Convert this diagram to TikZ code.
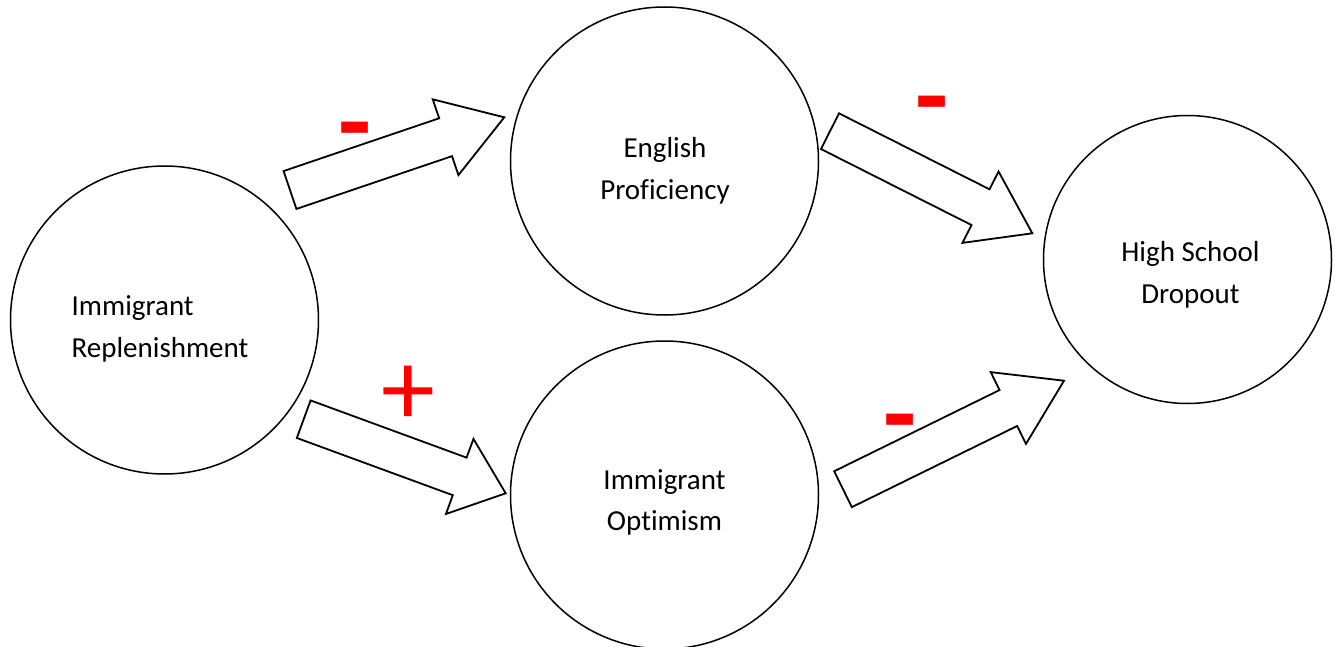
\documentclass[tikz,border=0pt]{standalone}
\usepackage{fontspec}
\setmainfont{Carlito}[Ligatures={NoCommon}]
\usetikzlibrary{calc}

\newcommand{\flowarrow}[3][29pt]{%
  \coordinate (#2#3) at ($(#3)!#1!(#2)$);
  \draw[arrowline] ($(#2)!10pt!90:(#3)$) -- ($(#2#3)!10pt!90:(#3)$) -- ($(#2#3)!20pt!90:(#3)$) -- (#3)
    -- ($(#2#3)!20pt!-90:(#3)$) -- ($(#2#3)!10pt!-90:(#3)$) -- ($(#2)!10pt!-90:(#3)$) -- cycle;}

\begin{document}
\begin{tikzpicture}[x=0.5pt, y=-0.5pt,
  bubble/.style={draw, circle, line width=0.75pt, minimum size=154pt, inner sep=0pt},
  caption/.style={align=center, font={\fontsize{14.5}{20.85}\selectfont}},
  arrowline/.style={fill=white, line width=0.9pt, line join=miter},
  sign/.style={text=red, font={\fontsize{54}{54}\selectfont}, inner sep=0pt, anchor=base}]
  \useasboundingbox (0,0) rectangle (1335,647);

  \node[bubble] (repl) at (164.5,320) {};
  \node[bubble] (eng) at (664.5,161) {};
  \node[bubble] (opt) at (664.5,495) {};
  \node[bubble, minimum size=144pt] (drop) at (1187.5,259.5) {};

  \node[caption, align=left] (repltxt) at (160,329) {Immigrant\\Replenishment};
  \node[caption] (engtxt) at (665,170.5) {English\\Proficiency};
  \node[caption] (opttxt) at (664.5,502.5) {Immigrant\\Optimism};
  \node[caption] (droptxt) at (1190.5,275) {High School\\Dropout};

  \coordinate (replup) at (290,190);
  \coordinate (engin) at (504.3,117.3);
  \coordinate (repldown) at (303.7,419.2);
  \coordinate (optin) at (505.7,493.3);
  \coordinate (engout) at (830,131.2);
  \coordinate (dropup) at (1032.3,233.3);
  \coordinate (optout) at (843,489.2);
  \coordinate (dropdown) at (1064,380.7);

  \flowarrow[31pt]{replup}{engin}
  \flowarrow[24.5pt]{repldown}{optin}
  \flowarrow[29pt]{engout}{dropup}
  \flowarrow[31pt]{optout}{dropdown}

  \node[sign] (minusa) at (355,158.5) {\bfseries -};
  \node[sign] (plusa) at (408.7,425) {+};
  \node[sign] (minusb) at (932,132.5) {\bfseries -};
  \node[sign] (minusc) at (900,450) {\bfseries -};
\end{tikzpicture}
\end{document}
